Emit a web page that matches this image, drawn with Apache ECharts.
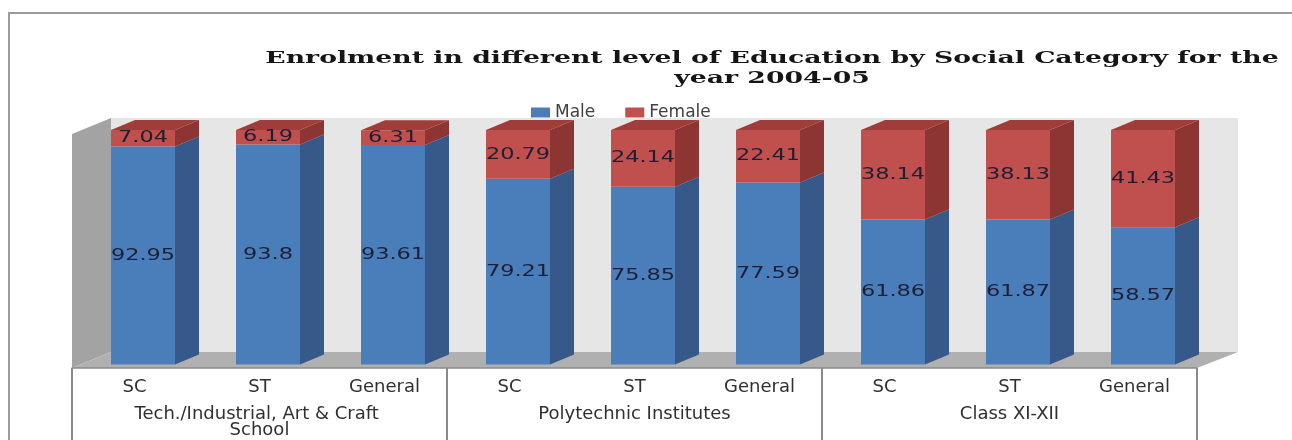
<!DOCTYPE html>
<html>
<head>
<meta charset="utf-8">
<script src="https://cdn.jsdelivr.net/npm/echarts@6/dist/echarts.min.js"></script>
<style>html,body{margin:0;padding:0;background:#fff;}#c{width:1292px;height:440px;}</style>
</head>
<body>
<div id="c"></div>
<script>
const categories = ['SC', 'ST', 'General', 'SC', 'ST', 'General', 'SC', 'ST', 'General'];
const groups = ['Tech./Industrial, Art & Craft School', 'Polytechnic Institutes', 'Class XI-XII'];
const male = [92.95, 93.8, 93.61, 79.21, 75.85, 77.59, 61.86, 61.87, 58.57];
const female = [7.04, 6.19, 6.31, 20.79, 24.14, 22.41, 38.14, 38.13, 41.43];
const seriesNames = ['Male', 'Female'];
const titleText = 'Enrolment in different level of Education by Social Category for the\nyear 2004-05';

const chart = echarts.init(document.getElementById('c'), null, {renderer: 'canvas'});

const maleData = male.map((v, i) => [i, 0, v]);
const femaleData = female.map((v, i) => [i, male[i], male[i] + v]);

function makeRender(colors, drawTop) {
  return function (params, api) {
    const i = api.value(0);
    const v0 = api.value(1), v1 = api.value(2);
    const p0 = api.coord([i, v0]);
    const p1 = api.coord([i, v1]);
    const bw = api.size([1, 0])[0] * 0.512;
    const sx = 8.5, sy = -3.5, dx = 24, dy = -10;
    const left = p0[0] - bw / 2 + sx, right = left + bw;
    const bottom = p0[1] + sy, top = p1[1] + sy;
    const children = [
      {type: 'rect', shape: {x: left, y: top, width: bw, height: bottom - top}, style: {fill: colors[0]}},
      {type: 'polygon', shape: {points: [[right, bottom], [right + dx, bottom + dy], [right + dx, top + dy], [right, top]]}, style: {fill: colors[1]}}
    ];
    if (drawTop) {
      children.push({type: 'polygon', shape: {points: [[left, top], [right, top], [right + dx, top + dy], [left + dx, top + dy]]}, style: {fill: colors[2]}});
    }
    children.push({
      type: 'text', x: (left + right) / 2, y: (top + bottom) / 2, scaleX: 1.4,
      style: {text: String(+(v1 - v0).toFixed(2)), align: 'center', verticalAlign: 'middle',
        textAlign: 'center', textVerticalAlign: 'middle', font: '16px "DejaVu Sans"', fill: '#1e1e34'}
    });
    return {type: 'group', children: children};
  };
}

const option = {
  animation: false,
  backgroundColor: '#ffffff',
  legend: {
    data: seriesNames,
    left: 526, top: 99,
    itemWidth: 19, itemHeight: 10, itemGap: 30,
    icon: 'rect',
    textStyle: {fontFamily: 'DejaVu Sans', fontSize: 17, color: '#404040'}
  },
  grid: {left: 72, right: 95, top: 133.5, bottom: 72, containLabel: false},
  xAxis: [
    {
      type: 'category', data: categories, position: 'bottom',
      axisLine: {show: false}, axisTick: {show: false}, splitLine: {show: false},
      axisLabel: {interval: 0, margin: 10, fontFamily: 'DejaVu Sans', fontSize: 18, color: '#303030'}
    },
    {
      type: 'category', data: groups, position: 'bottom',
      axisLine: {show: true, lineStyle: {color: '#8a8a8a', width: 1.5}},
      axisTick: {show: true, interval: 0, length: 80, lineStyle: {color: '#8a8a8a', width: 2}},
      splitLine: {show: false},
      axisLabel: {interval: 0, margin: 38, fontFamily: 'DejaVu Sans', fontSize: 18, color: '#303030', width: 280, overflow: 'break', lineHeight: 16}
    }
  ],
  yAxis: {type: 'value', min: 0, max: 100, show: false},
  graphic: [
    {type: 'rect', z: 0, shape: {x: 9, y: 13, width: 1400, height: 600}, style: {fill: 'none', stroke: '#9a9a9a', lineWidth: 2}},
    {type: 'polygon', z: 0, shape: {points: [[111, 118], [1238, 118], [1238, 352], [111, 352]]}, style: {fill: '#e6e6e6'}},
    {type: 'polygon', z: 0, shape: {points: [[72, 134], [111, 118], [111, 352], [72, 368]]}, style: {fill: '#a3a3a3'}},
    {type: 'polygon', z: 0, shape: {points: [[72, 368], [111, 352], [1238, 352], [1197, 368]]}, style: {fill: '#b0b0b0'}},
    {type: 'text', z: 10, x: 772, y: 69, scaleX: 1.57,
      style: {text: titleText, align: 'center', verticalAlign: 'middle', textAlign: 'center', textVerticalAlign: 'middle',
        font: 'bold 17px "DejaVu Serif"', lineHeight: 20, fill: '#151515'}}
  ],
  series: [
    {name: seriesNames[0], type: 'custom', xAxisIndex: 0, itemStyle: {color: '#4a7ebb'}, data: maleData,
      renderItem: makeRender(['#4a7ebb', '#36598a', '#3f6aa0'], false), z: 3},
    {name: seriesNames[1], type: 'custom', xAxisIndex: 0, itemStyle: {color: '#c0504d'}, data: femaleData,
      renderItem: makeRender(['#c0504d', '#8c3532', '#a03d3a'], true), z: 4}
  ]
};
chart.setOption(option);
</script>
</body>
</html>
